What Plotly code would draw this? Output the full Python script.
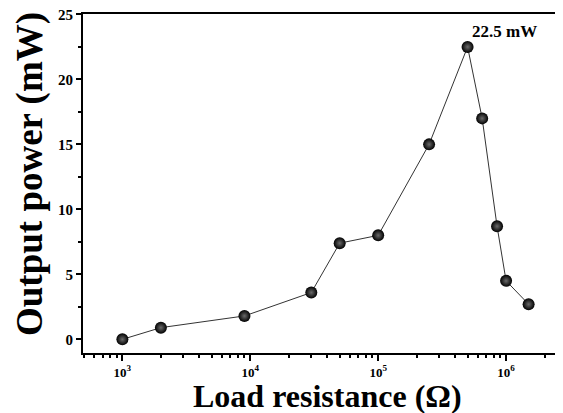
import numpy as np
import plotly.graph_objects as go

# Data
resistance = [1e3, 2e3, 9e3, 3e4, 5e4, 1e5, 2.5e5, 5e5, 6.5e5, 8.5e5, 1e6, 1.5e6]
power_mw = [0.0, 0.9, 1.8, 3.6, 7.4, 8.0, 15.0, 22.5, 17.0, 8.7, 4.5, 2.7]
x_major = [1e3, 1e4, 1e5, 1e6]
x_major_text = ["10<sup>3</sup>", "10<sup>4</sup>", "10<sup>5</sup>", "10<sup>6</sup>"]
x_minor = [m * 10 ** e for e in range(2, 7) for m in range(2, 10)]
y_ticks = [0, 5, 10, 15, 20, 25]

FONT = "Liberation Serif"
xr = [2.692, 6.445]

fig = go.Figure()
fig.add_trace(go.Scatter(
    x=resistance, y=power_mw, mode="lines+markers",
    line=dict(color="#333333", width=1),
    marker=dict(size=12, color="#000000",
                gradient=dict(type="radial", color="#6a6a6a"),
                line=dict(width=0)),
    showlegend=False,
))
# invisible trace on minor-tick axis
fig.add_trace(go.Scatter(x=[resistance[0]], y=[power_mw[0]], xaxis="x2",
                         mode="markers", marker=dict(opacity=0), showlegend=False,
                         hoverinfo="skip"))

i_peak = int(np.argmax(power_mw))
fig.add_annotation(x=np.log10(resistance[i_peak]), y=power_mw[i_peak],
                   text="<b>%.1f mW</b>" % power_mw[i_peak], showarrow=False,
                   xshift=37, yshift=15,
                   font=dict(family=FONT, size=17, color="black"))

# axis titles
fig.add_annotation(xref="paper", yref="paper", x=-0.1104, y=0.528,
                   text="<b>Output power (mW)</b>", textangle=-90, showarrow=False,
                   xanchor="center", yanchor="middle",
                   font=dict(family=FONT, size=37, color="black"))
fig.add_annotation(xref="paper", yref="paper", x=0.51, y=-0.126,
                   text="<b>Load resistance (Ω)</b>", showarrow=False,
                   xanchor="center", yanchor="middle",
                   font=dict(family=FONT, size=32, color="black"))

# page body has an 8px margin, so the figure is drawn 8px smaller and offset
fig.update_layout(
    width=555, height=405,
    margin=dict(l=75, r=0, t=6, b=60),
    plot_bgcolor="white", paper_bgcolor="white",
    font=dict(family=FONT, color="black"),
    xaxis=dict(
        type="log", range=xr, automargin=False,
        tickvals=x_major, ticktext=["<b>%s</b>" % t for t in x_major_text],
        ticks="outside", ticklen=6, tickwidth=1.5, tickcolor="black",
        showline=True, linecolor="black", linewidth=2, mirror=True,
        showgrid=False, zeroline=False,
        tickfont=dict(family=FONT, size=13, color="black"),
    ),
    xaxis2=dict(
        type="log", range=xr, overlaying="x", side="bottom", anchor="y",
        automargin=False,
        tickvals=x_minor, showticklabels=False,
        ticks="outside", ticklen=4, tickwidth=1.5, tickcolor="black",
        showline=False, showgrid=False, zeroline=False,
    ),
    yaxis=dict(
        range=[-1.05, 25.03], automargin=False, ticklabeloverflow="allow",
        tickvals=y_ticks, ticktext=["<b>%d</b>" % v for v in y_ticks],
        ticks="outside", ticklen=5, tickwidth=1.5, tickcolor="black",
        minor=dict(dtick=2.5, tick0=0, ticks="outside", ticklen=3, tickcolor="black"),
        showline=True, linecolor="black", linewidth=2,
        showgrid=False, zeroline=False,
        tickfont=dict(family=FONT, size=15, color="black"),
    ),
)

fig.write_html("out.html")
